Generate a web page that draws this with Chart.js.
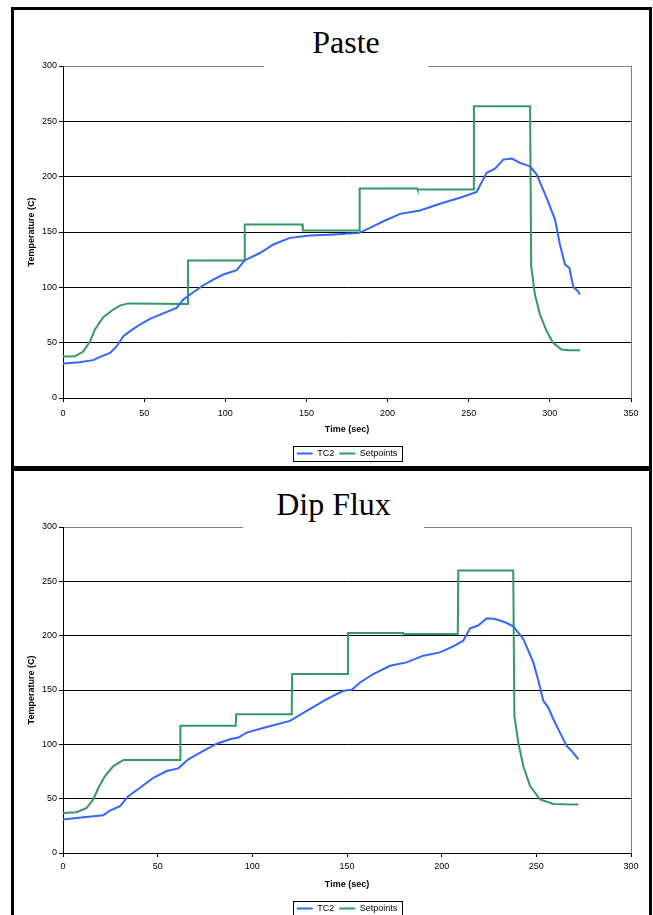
<!DOCTYPE html>
<html>
<head>
<meta charset="utf-8">
<script src="https://cdn.jsdelivr.net/npm/chart.js@4/dist/chart.umd.min.js"></script>
<style>
  body { margin: 0; background: #fff; width: 653px; height: 915px; overflow: hidden; position: relative; }
  .panel { position: absolute; left: 11px; width: 641px; border: 3px solid #000; box-sizing: border-box; }
  #panel-paste { top: 7px; height: 462px; }
  #panel-flux { top: 468px; height: 460px; }
  .panel canvas { display: block; }
  .title { position: absolute; background: #fff; color: #000; text-align: center; box-sizing: border-box;
    font-family: "Liberation Serif", "Times New Roman", serif; font-size: 32px; line-height: 32px; }
  #title-paste { left: 264px; top: 14px; width: 164px; height: 53px; padding-top: 12px; }
  #title-flux { left: 243px; top: 475px; width: 181px; height: 54px; padding-top: 13px; }
</style>
</head>
<body>
<div class="panel" id="panel-paste"><canvas id="chart-paste" width="635" height="461"></canvas></div>
<div class="panel" id="panel-flux"><canvas id="chart-flux" width="635" height="455"></canvas></div>
<div class="title" id="title-paste">Paste</div>
<div class="title" id="title-flux">Dip Flux</div>
<script>
// Paste profile
const pasteTc2Time = [0, 10, 18.7, 22.8, 29, 33.1, 37.2, 41.3, 47.4, 53.6, 59.8, 65.9, 70, 74.1, 80.3, 86.5, 92.6, 98.8, 107, 112.1,
  121.4, 129.6, 139.9, 152.2, 166.6, 182.4, 189.2, 197.4, 207.7, 220, 232.3, 244.6, 254.9, 261, 266.2, 271.3, 276.5, 281.6, 287.8,
  291.9, 298, 303.2, 306.2, 309.3, 312, 314.5, 316.9, 318.6]
const pasteTc2Temp = [31.2, 32.3, 34.2, 37.2, 40.8, 46.8, 55.8, 60.4, 66.4, 71.5, 75.4, 79, 81.5, 89, 95.6, 101.9, 107, 111.6, 115.5, 124.5,
  131, 138.7, 144.7, 146.8, 147.7, 149.2, 153.7, 159.7, 166.4, 169.4, 175.5, 180.9, 186.3, 203.4, 207.3, 215.4, 216.3, 212.5, 209.4,
  201.9, 180.9, 161.2, 138.7, 120.6, 117.6, 100.1, 97.1, 93.5]
const pasteSetTime = [0, 7.4, 12.5, 16.6, 19.7, 24.8, 31, 35, 40.2, 76.8, 77, 111.7, 112, 147.5, 147.8, 182.4, 182.8, 218.3, 218.5,
  252.8, 253.2, 287.8, 288.5, 290.8, 293.9, 298, 302, 307.2, 312, 318.6]
const pasteSetTemp = [37.5, 37.8, 42, 51, 62, 73, 80, 83.5, 85.5, 85, 124.2, 124.2, 156.8, 156.8, 151.3, 151.3, 189.3, 189.3, 188.4,
  188.4, 263.6, 263.6, 119, 93.5, 75.4, 60.4, 49.9, 43.8, 43.2, 43.2]

// Dip flux profile
const fluxTc2Time = [0, 10.7, 21.3, 24.8, 30.1, 34.5, 40.7, 47.7, 54.8, 60.9, 66.2, 74.1, 81.2, 88.2, 92.6, 97, 107.6, 119.9, 128.7,
  139.3, 148.1, 152.5, 156.9, 163.9, 172.7, 181.5, 190.3, 199.1, 206.1, 211.4, 215, 219.3, 223.8, 228.2, 233.5, 237.8, 243.1, 248.4,
  251.1, 253.7, 256.3, 259, 262.5, 266, 268.7, 272.2]
const fluxTc2Temp = [30.8, 33, 34.8, 39.1, 43.1, 52.3, 60, 69.2, 75.4, 77.9, 86.2, 93.9, 100.6, 104.7, 106.2, 110.8, 116, 121.6, 130.8,
  141.6, 149.3, 150.2, 156.9, 164.7, 172.3, 175.4, 181.6, 184.6, 190.2, 195.4, 206.8, 209.3, 216, 215.4, 212.3, 208.6, 197, 175.4,
  158.5, 140, 133.8, 123.1, 110.8, 98.5, 93.9, 86.2]
const fluxSetTime = [0, 7.2, 12.5, 16, 18.7, 22.2, 26.6, 31.9, 61.8, 62, 91.2, 91.5, 120.8, 121, 150.2, 150.5, 179.7, 180, 208.5,
  208.8, 237.8, 238.4, 240.5, 243.1, 246.7, 251.9, 259, 265, 272.2]
const fluxSetTemp = [36.9, 37.5, 41.5, 49.3, 60, 70.8, 80, 85.6, 85.6, 117, 117, 127.7, 127.7, 164.7, 164.7, 202.5, 202.5, 201.6, 201.6,
  260, 260, 126.2, 101.5, 80, 61.6, 49.3, 45.2, 44.8, 44.7]

const seriesNames = ["TC2", "Setpoints"]
const seriesColors = ["#3366ff", "#339966"]
const tempTicks = [0, 50, 100, 150, 200, 250, 300]

Chart.defaults.font.family = '"Liberation Sans", Arial, sans-serif'
Chart.defaults.font.size = 9
Chart.defaults.color = "#000"

const toPoints = (xs, ys) => xs.map((x, i) => ({ x: x, y: ys[i] }))

// box around the legend items, like the excel legend frame
const legendFrame = {
  id: "legendFrame",
  afterDraw(chart) {
    const boxes = chart.legend && chart.legend.legendHitBoxes
    if (!boxes || !boxes.length) return
    const left = Math.min(...boxes.map(b => b.left)) - 4
    const right = Math.max(...boxes.map(b => b.left + b.width)) + 4
    const top = Math.min(...boxes.map(b => b.top)) - 3
    const bottom = Math.max(...boxes.map(b => b.top + b.height)) + 3
    const ctx = chart.ctx
    ctx.save()
    ctx.strokeStyle = "#000"
    ctx.lineWidth = 1
    ctx.strokeRect(Math.round(left) + 0.5, Math.round(top) + 0.5, Math.round(right - left), Math.round(bottom - top))
    ctx.restore()
  }
}

const makeChart = (id, tc2, setpoints, xMax, xTickPad) => {
  new Chart(document.getElementById(id), {
    type: "line",
    data: {
      datasets: [
        { label: seriesNames[0], data: tc2, borderColor: seriesColors[0], backgroundColor: seriesColors[0], borderWidth: 2, pointRadius: 0, tension: 0 },
        { label: seriesNames[1], data: setpoints, borderColor: seriesColors[1], backgroundColor: seriesColors[1], borderWidth: 2, pointRadius: 0, tension: 0 },
      ]
    },
    options: {
      responsive: false,
      animation: false,
      devicePixelRatio: 1,
      layout: { padding: { left: 8, right: 18, top: 56, bottom: 3 } },
      plugins: {
        title: { display: false },
        tooltip: { enabled: false },
        legend: {
          position: "bottom",
          fullSize: false,
          labels: { usePointStyle: true, pointStyle: "line", pointStyleWidth: 16, padding: 5, color: "#000", font: { size: 9 } }
        }
      },
      scales: {
        x: {
          type: "linear",
          min: 0,
          max: xMax,
          ticks: { stepSize: 50, padding: xTickPad, color: "#000" },
          grid: {
            drawOnChartArea: true,
            tickLength: 4,
            color: c => (c.tick && c.tick.value === xMax) ? "#808080" : "rgba(0,0,0,0)",
            tickColor: "#000"
          },
          border: { color: "#000", width: 1 },
          title: { display: true, text: "Time (sec)", font: { weight: "bold", size: 9 }, padding: { top: 0, bottom: 8.6 } },
          afterFit: s => { s.height = 46 }
        },
        y: {
          min: 0,
          max: 300,
          afterBuildTicks: s => { s.ticks = tempTicks.map(v => ({ value: v })) },
          ticks: { padding: 2, color: "#000" },
          grid: {
            tickLength: 4,
            color: c => (c.tick && c.tick.value === 300) ? "#808080" : "#000",
            tickColor: "#000"
          },
          border: { color: "#000", width: 1 },
          title: { display: true, text: "Temperature (C)", font: { weight: "bold", size: 9 }, padding: { top: 4, bottom: 0 } },
          afterFit: s => { s.width = 41 }
        }
      }
    },
    plugins: [legendFrame]
  })
}

makeChart("chart-paste", toPoints(pasteTc2Time, pasteTc2Temp), toPoints(pasteSetTime, pasteSetTemp), 350, 6)
makeChart("chart-flux", toPoints(fluxTc2Time, fluxTc2Temp), toPoints(fluxSetTime, fluxSetTemp), 300, 4)
</script>
</body>
</html>
